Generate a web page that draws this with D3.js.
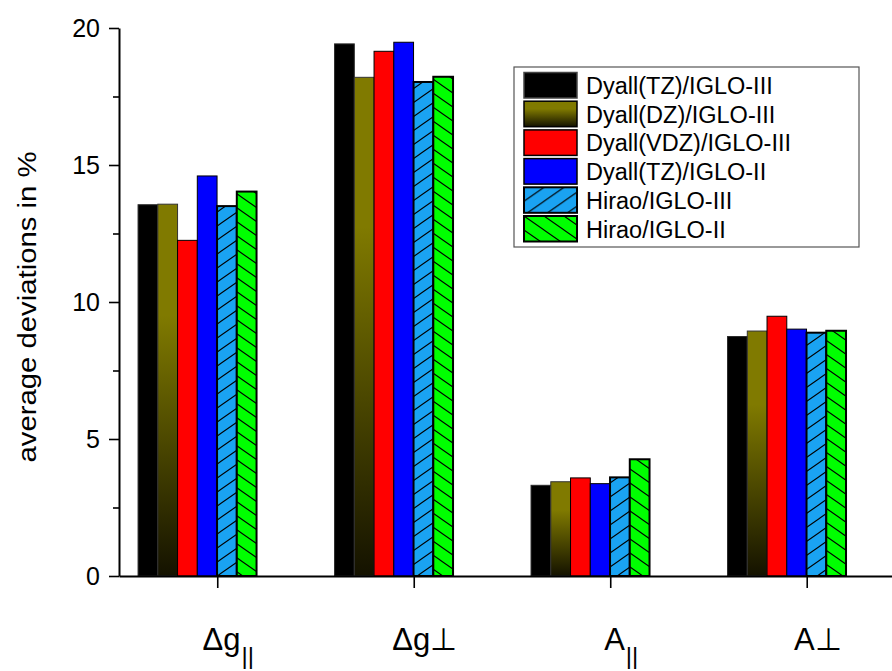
<!DOCTYPE html>
<html>
<head>
<meta charset="utf-8">
<script src="https://cdn.jsdelivr.net/npm/d3@7/dist/d3.min.js"></script>
<style>
  html, body { margin: 0; padding: 0; background: #fff; }
  svg { display: block; font-family: "Liberation Sans", Arial, sans-serif; }
</style>
</head>
<body>
<svg id="chart" width="892" height="671"></svg>
<script>
// Category labels: main text and optional subscript
const categoryMain = ["Δg", "Δg⊥", "A", "A⊥"];
const categorySub  = ["||", "", "||", ""];

// Basis-set combinations (one bar per category each)
const seriesNames = [
  "Dyall(TZ)/IGLO-III",
  "Dyall(DZ)/IGLO-III",
  "Dyall(VDZ)/IGLO-III",
  "Dyall(TZ)/IGLO-II",
  "Hirao/IGLO-III",
  "Hirao/IGLO-II"
];

// Average deviations in % for each series across the four categories
const dyallTZ_III  = [13.55, 19.42, 3.31, 8.74];
const dyallDZ_III  = [13.57, 18.20, 3.44, 8.94];
const dyallVDZ_III = [12.25, 19.15, 3.58, 9.48];
const dyallTZ_II   = [14.60, 19.48, 3.37, 9.01];
const hirao_III    = [13.50, 18.03, 3.60, 8.88];
const hirao_II     = [14.03, 18.22, 4.26, 8.95];
const seriesValues = [dyallTZ_III, dyallDZ_III, dyallVDZ_III, dyallTZ_II, hirao_III, hirao_II];

const yMajorTicks = [0, 5, 10, 15, 20];
const yMinorTicks = [2.5, 7.5, 12.5, 17.5];

// Appearance per series
const fills   = ["#000000", "url(#oliveGrad)", "#ff0000", "#0000ff", "url(#hatchUp)", "url(#hatchDown)"];
const strokes = ["#2a2a2a", "#333333", "#000000", "#000000", "#000000", "#000000"];
const strokeW = [1, 1, 1, 1, 2, 2];

const svg = d3.select("#chart");
const defs = svg.append("defs");

// Olive fading to black towards the base of each bar
const og = defs.append("linearGradient").attr("id", "oliveGrad")
  .attr("x1", 0).attr("y1", 0).attr("x2", 0).attr("y2", 1);
og.append("stop").attr("offset", "0").attr("stop-color", "#807a00");
og.append("stop").attr("offset", "0.3").attr("stop-color", "#807a00");
og.append("stop").attr("offset", "1").attr("stop-color", "#141200");

// Hatch fills
function hatch(id, bg, d) {
  const p = defs.append("pattern").attr("id", id)
    .attr("patternUnits", "userSpaceOnUse").attr("width", 20).attr("height", 14);
  p.append("rect").attr("width", 20).attr("height", 14).attr("fill", bg);
  p.append("path").attr("d", d).attr("stroke", "#000").attr("stroke-width", 1.1).attr("fill", "none");
}
hatch("hatchUp", "#1aa3f2", "M0,14L20,0M-4,2.8L4,-2.8M16,16.8L24,11.2");
hatch("hatchDown", "#00ff00", "M0,0L20,14M-4,11.2L4,16.8M16,-2.8L24,2.8");

// Scales
const x = d3.scaleLinear().domain([0.5, 4.434]).range([119, 892]);
const inner = d3.scaleBand().domain(seriesNames).range([-0.403, 0.2]).padding(0);
const y = d3.scaleLinear().domain([0, 20]).range([576, 28]);

// Bars
const barData = [];
seriesNames.forEach((s, si) => {
  seriesValues[si].forEach((v, ci) => barData.push({ s, si, ci, v }));
});
svg.append("g").selectAll("rect").data(barData).join("rect")
  .attr("x", d => x(d.ci + 1 + inner(d.s)))
  .attr("width", d => x(d.ci + 1 + inner(d.s) + inner.bandwidth()) - x(d.ci + 1 + inner(d.s)))
  .attr("y", d => y(d.v))
  .attr("height", d => y(0) - y(d.v))
  .attr("fill", d => fills[d.si])
  .attr("stroke", d => strokes[d.si])
  .attr("stroke-width", d => strokeW[d.si]);

// Y axis with major and minor ticks
const yAxis = svg.append("g").attr("transform", `translate(${x(0.5)},0)`)
  .call(d3.axisLeft(y).tickValues(yMajorTicks).tickSize(10).tickPadding(9).tickSizeOuter(0));
yAxis.select(".domain").attr("stroke-width", 2);
yAxis.selectAll(".tick line").attr("stroke-width", 1.6);
yAxis.selectAll(".tick text").attr("font-size", 25).attr("fill", "#000")
  .attr("font-family", "'Liberation Sans', Arial, sans-serif");

const yMinor = svg.append("g").attr("transform", `translate(${x(0.5)},0)`)
  .call(d3.axisLeft(y).tickValues(yMinorTicks).tickSize(6).tickFormat("").tickSizeOuter(0));
yMinor.select(".domain").remove();
yMinor.selectAll(".tick line").attr("stroke-width", 1.6);

// X axis: ticks only, labels drawn separately
const xAxis = svg.append("g").attr("transform", `translate(0,${y(0)})`)
  .call(d3.axisBottom(x).tickValues([1, 2, 3, 4]).tickSize(12).tickFormat("").tickSizeOuter(0));
xAxis.select(".domain").attr("stroke-width", 2);
xAxis.selectAll(".tick line").attr("stroke-width", 1.6);

// Category labels
const labels = svg.append("g").selectAll("text").data(categoryMain).join("text")
  .attr("x", (d, i) => x(i + 1) + 11)
  .attr("y", 650)
  .attr("text-anchor", "middle")
  .attr("font-size", 31)
  .attr("fill", "#000");
labels.append("tspan").text(d => d);
labels.append("tspan")
  .attr("font-size", 24)
  .attr("dy", 14)
  .attr("dx", 1)
  .text((d, i) => categorySub[i]);

// Y axis title
svg.append("text")
  .attr("transform", "translate(36,307) rotate(-90)")
  .attr("text-anchor", "middle")
  .attr("font-size", 25)
  .attr("textLength", 311)
  .attr("lengthAdjust", "spacingAndGlyphs")
  .attr("fill", "#000")
  .text("average deviations in %");

// Legend
const legend = svg.append("g");
legend.append("rect")
  .attr("x", 514).attr("y", 67).attr("width", 345).attr("height", 180)
  .attr("fill", "#fff").attr("stroke", "#555").attr("stroke-width", 1.2);
const rows = legend.selectAll("g.row").data(seriesNames).join("g")
  .attr("class", "row")
  .attr("transform", (d, i) => `translate(524,${72.5 + i * 28.7})`);
rows.append("rect")
  .attr("width", 53).attr("height", 25.5)
  .attr("fill", (d, i) => fills[i])
  .attr("stroke", (d, i) => i === 0 ? "#444" : "#000")
  .attr("stroke-width", (d, i) => strokeW[i] === 2 ? 2 : 1.5);
rows.append("text")
  .attr("x", 62).attr("y", 21.5)
  .attr("font-size", 23.5)
  .attr("fill", "#000")
  .text(d => d);
</script>
</body>
</html>
